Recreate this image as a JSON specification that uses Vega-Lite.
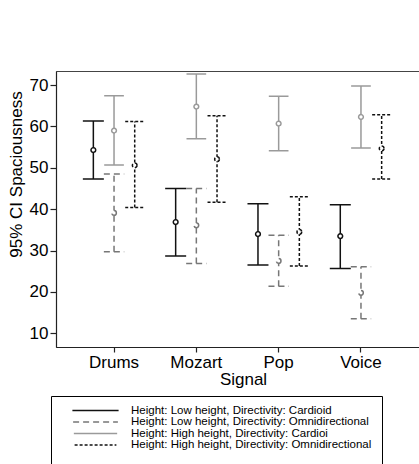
{
  "$schema": "https://vega.github.io/schema/vega-lite/v6.json",
  "width": 363,
  "height": 276,
  "autosize": {"type": "none"},
  "padding": {"left": 56, "top": 71, "right": 0, "bottom": 117},
  "config": {
    "font": "Liberation Sans",
    "view": {"stroke": "#444", "strokeWidth": 1},
    "axis": {"domainColor": "#222", "domainWidth": 1.2, "tickColor": "#222", "tickWidth": 1.2, "grid": false, "labelColor": "#000", "titleColor": "#000", "titleFontWeight": "normal"}
  },
  "data": {
    "values": [
      {"signal": "Drums", "series": "Height: Low height, Directivity: Cardioid", "mean": 54.3, "lo": 47.3, "hi": 61.3},
      {"signal": "Drums", "series": "Height: Low height, Directivity: Omnidirectional", "mean": 39.1, "lo": 29.7, "hi": 48.5},
      {"signal": "Drums", "series": "Height: High height, Directivity: Cardioi", "mean": 59.0, "lo": 50.7, "hi": 67.4},
      {"signal": "Drums", "series": "Height: High height, Directivity: Omnidirectional", "mean": 50.6, "lo": 40.4, "hi": 61.2},
      {"signal": "Mozart", "series": "Height: Low height, Directivity: Cardioid", "mean": 36.9, "lo": 28.7, "hi": 45.0},
      {"signal": "Mozart", "series": "Height: Low height, Directivity: Omnidirectional", "mean": 36.1, "lo": 26.9, "hi": 45.0},
      {"signal": "Mozart", "series": "Height: High height, Directivity: Cardioi", "mean": 64.8, "lo": 57.0, "hi": 72.7},
      {"signal": "Mozart", "series": "Height: High height, Directivity: Omnidirectional", "mean": 52.1, "lo": 41.7, "hi": 62.6},
      {"signal": "Pop", "series": "Height: Low height, Directivity: Cardioid", "mean": 34.0, "lo": 26.5, "hi": 41.3},
      {"signal": "Pop", "series": "Height: Low height, Directivity: Omnidirectional", "mean": 27.5, "lo": 21.4, "hi": 33.7},
      {"signal": "Pop", "series": "Height: High height, Directivity: Cardioi", "mean": 60.7, "lo": 54.1, "hi": 67.3},
      {"signal": "Pop", "series": "Height: High height, Directivity: Omnidirectional", "mean": 34.5, "lo": 26.3, "hi": 43.0},
      {"signal": "Voice", "series": "Height: Low height, Directivity: Cardioid", "mean": 33.5, "lo": 25.7, "hi": 41.1},
      {"signal": "Voice", "series": "Height: Low height, Directivity: Omnidirectional", "mean": 19.8, "lo": 13.5, "hi": 26.1},
      {"signal": "Voice", "series": "Height: High height, Directivity: Cardioi", "mean": 62.3, "lo": 54.8, "hi": 69.8},
      {"signal": "Voice", "series": "Height: High height, Directivity: Omnidirectional", "mean": 54.7, "lo": 47.3, "hi": 62.8}
    ]
  },
  "encoding": {
    "x": {
      "field": "signal", "type": "nominal",
      "scale": {"type": "band", "domain": ["Drums", "Mozart", "Pop", "Voice"], "paddingInner": 0, "paddingOuter": 0.205},
      "axis": {"title": "Signal", "labelAngle": 0, "labelFontSize": 17, "titleFontSize": 17, "tickSize": 5, "labelPadding": 2, "labelDx": 11, "titlePadding": 1, "titleX": 187}
    },
    "stroke": {
      "field": "series", "type": "nominal",
      "scale": {
        "domain": ["Height: Low height, Directivity: Cardioid", "Height: Low height, Directivity: Omnidirectional", "Height: High height, Directivity: Cardioi", "Height: High height, Directivity: Omnidirectional"],
        "range": ["#111111", "#777777", "#9a9a9a", "#111111"]
      },
      "legend": {"title": " ", "titleOrient": "bottom", "titleFontSize": 20, "titlePadding": 10, "orient": "none", "legendX": -5, "legendY": 325, "symbolType": "M-2.2,0H2.2", "symbolSize": 529, "symbolOffset": 23, "symbolStrokeWidth": 1.5, "labelFontSize": 11.5, "labelLimit": 400, "labelOffset": 24, "strokeColor": "#000", "fillColor": "#fff", "padding": 10, "clipHeight": 9, "rowPadding": -0.5}
    },
    "strokeDash": {
      "field": "series", "type": "nominal",
      "scale": {
        "domain": ["Height: Low height, Directivity: Cardioid", "Height: Low height, Directivity: Omnidirectional", "Height: High height, Directivity: Cardioi", "Height: High height, Directivity: Omnidirectional"],
        "range": [[1, 0], [6, 4], [1, 0], [3, 2]]
      },
      "legend": {"title": " ", "titleOrient": "bottom", "titleFontSize": 20, "titlePadding": 10, "orient": "none", "legendX": -5, "legendY": 325, "symbolType": "M-2.2,0H2.2", "symbolSize": 529, "symbolOffset": 23, "symbolStrokeWidth": 1.5, "labelFontSize": 11.5, "labelLimit": 400, "labelOffset": 24, "strokeColor": "#000", "fillColor": "#fff", "padding": 10, "clipHeight": 9, "rowPadding": -0.5}
    }
  },
  "layer": [
    {
      "transform": [{"filter": {"field": "series", "oneOf": ["Height: Low height, Directivity: Cardioid", "Height: Low height, Directivity: Omnidirectional", "Height: High height, Directivity: Omnidirectional"]}}],
      "encoding": {
        "xOffset": {"field": "series", "type": "nominal", "scale": {"type": "point", "domain": ["Height: Low height, Directivity: Cardioid", "Height: Low height, Directivity: Omnidirectional", "Height: High height, Directivity: Omnidirectional"], "padding": 0.99}}
      },
      "layer": [
        {
          "mark": {"type": "rule", "strokeWidth": 1.5},
          "encoding": {
            "y": {"field": "lo", "type": "quantitative", "scale": {"domain": [6.7, 73.4], "nice": false, "zero": false}, "axis": {"title": "95% CI Spaciousness", "values": [10, 20, 30, 40, 50, 60, 70], "labelFontSize": 17, "titleFontSize": 17, "tickSize": 6, "labelPadding": 2, "titlePadding": 4, "titleY": 103}},
            "y2": {"field": "hi"}
          }
        },
        {
          "mark": {"type": "point", "shape": "stroke", "strokeWidth": 1.5, "opacity": 1},
          "encoding": {
            "y": {"field": "lo", "type": "quantitative"},
            "size": {"field": "series", "type": "nominal", "scale": {"domain": ["Height: Low height, Directivity: Cardioid", "Height: Low height, Directivity: Omnidirectional", "Height: High height, Directivity: Cardioi", "Height: High height, Directivity: Omnidirectional"], "range": [441, 361, 441, 196]}, "legend": null}
          }
        },
        {
          "mark": {"type": "point", "shape": "stroke", "strokeWidth": 1.5, "opacity": 1},
          "encoding": {
            "y": {"field": "hi", "type": "quantitative"},
            "size": {"field": "series", "type": "nominal", "legend": null}
          }
        },
        {
          "mark": {"type": "point", "shape": "circle", "filled": true, "fill": "#fff", "strokeWidth": 1.5, "size": 22, "opacity": 1},
          "encoding": {
            "y": {"field": "mean", "type": "quantitative"}
          }
        }
      ]
    },
    {
      "transform": [{"filter": {"field": "series", "equal": "Height: High height, Directivity: Cardioi"}}],
      "layer": [
        {
          "mark": {"type": "rule", "strokeWidth": 1.5},
          "encoding": {
            "y": {"field": "lo", "type": "quantitative"},
            "y2": {"field": "hi"}
          }
        },
        {
          "mark": {"type": "point", "shape": "stroke", "strokeWidth": 1.5, "opacity": 1},
          "encoding": {
            "y": {"field": "lo", "type": "quantitative"},
            "size": {"field": "series", "type": "nominal", "legend": null}
          }
        },
        {
          "mark": {"type": "point", "shape": "stroke", "strokeWidth": 1.5, "opacity": 1},
          "encoding": {
            "y": {"field": "hi", "type": "quantitative"},
            "size": {"field": "series", "type": "nominal", "legend": null}
          }
        },
        {
          "mark": {"type": "point", "shape": "circle", "filled": true, "fill": "#fff", "strokeWidth": 1.5, "size": 22, "opacity": 1},
          "encoding": {
            "y": {"field": "mean", "type": "quantitative"}
          }
        }
      ]
    }
  ]
}
